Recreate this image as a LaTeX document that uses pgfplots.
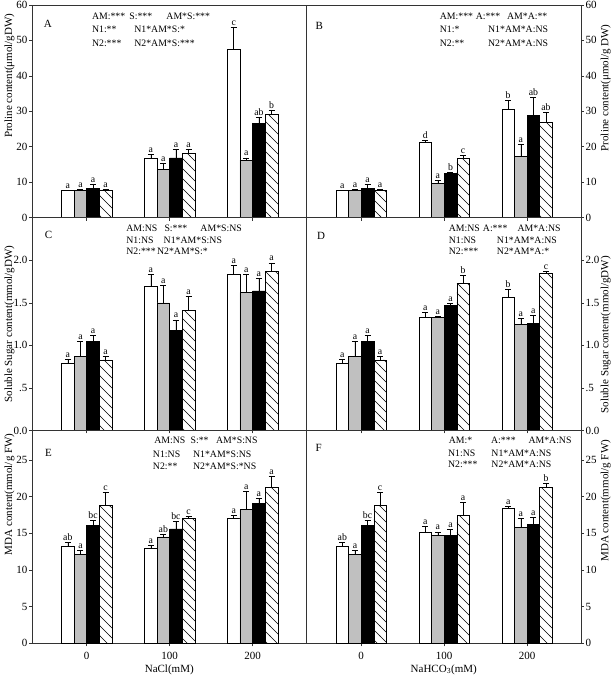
\documentclass[border=0pt]{standalone}
\usepackage{fontspec}
\setmainfont{Liberation Serif}
\usepackage{pgfplots}
\pgfplotsset{compat=1.18}
\usepackage{pgfplotstable}
\usetikzlibrary{patterns}

\pgfdeclarepatternformonly{hatchnw}{\pgfqpoint{-1pt}{-1pt}}{\pgfqpoint{11pt}{11pt}}{\pgfqpoint{10pt}{10pt}}{%
  \pgfsetlinewidth{0.5pt}%
  \pgfpathmoveto{\pgfqpoint{-0.5pt}{10.5pt}}%
  \pgfpathlineto{\pgfqpoint{10.5pt}{-0.5pt}}%
  \pgfusepath{stroke}}

\definecolor{barg}{RGB}{192,192,192}
\newcommand{\ann}{\fontsize{9.8}{11}\selectfont}
\newcommand{\tk}{\fontsize{11}{13}\selectfont}
\newcommand{\lb}{\fontsize{11}{13}\selectfont}

\pgfplotstableread{
x y1 e1 l1 y2 e2 l2 y3 e3 l3 y4 e4 l4
0 7.6 0.2 a 7.6 0.3 a 8.3 1.2 a 7.6 0.4 a
1 16.9 1.0 a 13.7 1.6 a 16.9 2.4 a 18.2 1.2 a
2 47.5 6.3 c 16.2 0.7 a 26.5 1.9 ab 29.1 1.3 b
}\dataA
\pgfplotstableread{
x y1 e1 l1 y2 e2 l2 y3 e3 l3 y4 e4 l4
0 7.6 0.2 a 7.6 0.3 a 8.3 1.2 a 7.6 0.4 a
1 21.2 0.6 d 9.6 1.0 a 12.4 0.5 b 16.8 0.8 c
2 30.6 2.4 b 17.3 3.5 a 28.9 5.1 ab 26.9 2.8 ab
}\dataB
\pgfplotstableread{
x y1 e1 l1 y2 e2 l2 y3 e3 l3 y4 e4 l4
0 0.79 0.05 a 0.87 0.18 a 1.05 0.07 a 0.83 0.04 a
1 1.70 0.13 a 1.50 0.21 a 1.18 0.12 a 1.41 0.17 a
2 1.84 0.10 a 1.62 0.22 a 1.64 0.15 a 1.87 0.10 a
}\dataC
\pgfplotstableread{
x y1 e1 l1 y2 e2 l2 y3 e3 l3 y4 e4 l4
0 0.79 0.05 a 0.87 0.18 a 1.05 0.07 a 0.83 0.04 a
1 1.33 0.06 a 1.33 0.01 a 1.47 0.02 a 1.73 0.09 b
2 1.56 0.10 b 1.25 0.07 a 1.26 0.09 a 1.85 0.02 c
}\dataD
\pgfplotstableread{
x y1 e1 l1 y2 e2 l2 y3 e3 l3 y4 e4 l4
0 13.2 0.6 ab 12.1 0.6 a 16.1 0.7 bc 18.8 1.8 c
1 12.9 0.5 a 14.5 0.3 ab 15.6 1.0 bc 17.0 0.3 c
2 17.0 0.5 a 18.2 2.5 a 19.1 0.6 a 21.2 1.5 a
}\dataE
\pgfplotstableread{
x y1 e1 l1 y2 e2 l2 y3 e3 l3 y4 e4 l4
0 13.2 0.6 ab 12.1 0.6 a 16.1 0.7 bc 18.8 1.8 c
1 15.1 0.8 a 14.7 0.5 a 14.7 0.8 a 17.4 1.8 a
2 18.4 0.3 a 15.8 1.2 a 16.2 1.0 a 21.2 0.6 b
}\dataF

\pgfplotsset{
  panel/.style={
    scale only axis, width=274.5pt, height=212.8pt, anchor=south west,
    xmin=-0.66, xmax=2.65, xtick={0,1,2},
    tick align=outside, major tick length=3pt, xtick pos=bottom,
    axis line style={line width=0.6pt, black!80},
    tick style={line width=0.6pt, black!80},
    ticklabel style={font=\tk},
    xticklabel style={yshift=-2pt},
    yticklabel style={inner sep=1.5pt},
    /pgf/number format/assume math mode=true,
    clip=false,
  },
  leftp/.style={ytick pos=left, yticklabel pos=left},
  rightp/.style={ytick pos=right, yticklabel pos=right},
  mybar/.style={
    ybar, bar width=0.152, bar shift=0, draw=black, line width=0.5pt,
    error bars/.cd, y dir=plus, y explicit,
    error bar style={black, line width=0.5pt},
    error mark options={rotate=90, black, mark size=3pt, line width=0.5pt},
    /pgfplots/.cd,
    nodes near coords, point meta=explicit symbolic,
    nodes near coords style={anchor=south, inner sep=1.5pt, font=\ann, black,
      shift={(axis direction cs:0,\myerr)}},
  },
}

\newcommand{\fourbars}[1]{%
  \addplot[mybar, fill=white, visualization depends on={\thisrow{e1}\as\myerr}]
    table[x expr=\thisrow{x}-0.228, y=y1, y error=e1, meta=l1]{#1};
  \addplot[mybar, fill=barg, visualization depends on={\thisrow{e2}\as\myerr}]
    table[x expr=\thisrow{x}-0.076, y=y2, y error=e2, meta=l2]{#1};
  \addplot[mybar, fill=black, visualization depends on={\thisrow{e3}\as\myerr}]
    table[x expr=\thisrow{x}+0.076, y=y3, y error=e3, meta=l3]{#1};
  \addplot[mybar, pattern=hatchnw, pattern color=black, visualization depends on={\thisrow{e4}\as\myerr}]
    table[x expr=\thisrow{x}+0.228, y=y4, y error=e4, meta=l4]{#1};
}
\newcommand{\tx}[3]{\node[anchor=west, font=\ann, inner sep=0pt] at (rel axis cs:#1,#2) {#3};}
\newcommand{\pl}[3]{\node[anchor=center, font=\lb, inner sep=0pt] at (rel axis cs:#1,#2) {#3};}

\begin{document}
\begin{tikzpicture}
\path[use as bounding box] (0,0) rectangle (614pt,676pt);

% ---------- A ----------
\begin{axis}[panel, leftp, at={(32pt,458.3pt)}, ymin=0, ymax=60, ytick={0,10,...,60},
  xticklabels={,,}, ylabel={Proline content(μmol/gDW)},
  ylabel style={font=\lb, at={(axis description cs:-0.082,0.667)}, anchor=center}]
\fourbars{\dataA}
\pl{0.058}{0.911}{A}
\tx{0.218}{0.945}{AM:***}\tx{0.354}{0.945}{S:***}\tx{0.489}{0.945}{AM*S:***}
\tx{0.218}{0.887}{N1:**}\tx{0.372}{0.887}{N1*AM*S:*}
\tx{0.218}{0.821}{N2:***}\tx{0.372}{0.821}{N2*AM*S:***}
\end{axis}

% ---------- B ----------
\begin{axis}[panel, rightp, at={(306.5pt,458.3pt)}, ymin=0, ymax=60, ytick={0,10,...,60},
  xticklabels={,,}, ylabel={Proline content(μmol/g DW)},
  ylabel style={font=\lb, at={(axis description cs:1.090,0.61)}, anchor=center}]
\fourbars{\dataB}
\pl{0.047}{0.903}{B}
\tx{0.485}{0.945}{AM:***}\tx{0.616}{0.945}{A:***}\tx{0.730}{0.945}{AM*A:**}
\tx{0.485}{0.887}{N1:*}\tx{0.661}{0.887}{N1*AM*A:NS}
\tx{0.485}{0.821}{N2:**}\tx{0.661}{0.821}{N2*AM*A:NS}
\end{axis}

% ---------- C ----------
\begin{axis}[panel, leftp, at={(32pt,245.5pt)}, ymin=0, ymax=2.5, ytick={0,0.5,1,1.5,2},
  yticklabels={0.0,.5,1.0,1.5,2.0},
  xticklabels={,,}, ylabel={Soluble Sugar content(mmol/gDW)},
  ylabel style={font=\lb, at={(axis description cs:-0.082,0.5)}, anchor=center}]
\fourbars{\dataC}
\pl{0.06}{0.921}{C}
\tx{0.343}{0.950}{AM:NS}\tx{0.482}{0.950}{S:***}\tx{0.613}{0.950}{AM*S:NS}
\tx{0.343}{0.893}{N1:NS}\tx{0.479}{0.893}{N1*AM*S:NS}
\tx{0.343}{0.840}{N2:***}\tx{0.455}{0.840}{N2*AM*S:*}
\end{axis}

% ---------- D ----------
\begin{axis}[panel, rightp, at={(306.5pt,245.5pt)}, ymin=0, ymax=2.5, ytick={0,0.5,1,1.5,2},
  yticklabels={0.0,.5,1.0,1.5,2.0},
  xticklabels={,,}, ylabel={Soluble Sugar content(mmol/gDW)},
  ylabel style={font=\lb, at={(axis description cs:1.090,0.45)}, anchor=center}]
\fourbars{\dataD}
\pl{0.053}{0.913}{D}
\tx{0.518}{0.950}{AM:NS}\tx{0.642}{0.950}{A:***}\tx{0.768}{0.950}{AM*A:NS}
\tx{0.518}{0.893}{N1:NS}\tx{0.693}{0.893}{N1*AM*A:NS}
\tx{0.518}{0.840}{N2:***}\tx{0.693}{0.840}{N2*AM*A:*}
\end{axis}

% ---------- E ----------
\begin{axis}[panel, leftp, at={(32pt,32.7pt)}, ymin=0, ymax=29, ytick={0,5,...,25},
  xticklabels={0,100,200}, xlabel={NaCl(mM)},
  xlabel style={font=\lb, at={(axis description cs:0.5,-0.123)}, anchor=center},
  ylabel={MDA content(mmol/g FW)},
  ylabel style={font=\lb, at={(axis description cs:-0.082,0.70)}, anchor=center}]
\fourbars{\dataE}
\pl{0.06}{0.894}{E}
\tx{0.445}{0.956}{AM:NS}\tx{0.577}{0.956}{S:**}\tx{0.670}{0.956}{AM*S:NS}
\tx{0.440}{0.886}{N1:NS}\tx{0.586}{0.886}{N1*AM*S:NS}
\tx{0.440}{0.831}{N2:**}\tx{0.586}{0.831}{N2*AM*S:*NS}
\end{axis}

% ---------- F ----------
\begin{axis}[panel, rightp, at={(306.5pt,32.7pt)}, ymin=0, ymax=29, ytick={0,5,...,25},
  xticklabels={0,100,200}, xlabel={NaHCO\textsubscript{3}(mM)},
  xlabel style={font=\lb, at={(axis description cs:0.5,-0.123)}, anchor=center},
  ylabel={MDA content(mmol/g FW)},
  ylabel style={font=\lb, at={(axis description cs:1.090,0.67)}, anchor=center}]
\fourbars{\dataF}
\pl{0.044}{0.917}{F}
\tx{0.518}{0.956}{AM:*}\tx{0.672}{0.956}{A:***}\tx{0.808}{0.956}{AM*A:NS}
\tx{0.515}{0.894}{N1:NS}\tx{0.673}{0.894}{N1*AM*A:NS}
\tx{0.515}{0.839}{N2:***}\tx{0.673}{0.839}{N2*AM*A:NS}
\end{axis}
\end{tikzpicture}
\end{document}
